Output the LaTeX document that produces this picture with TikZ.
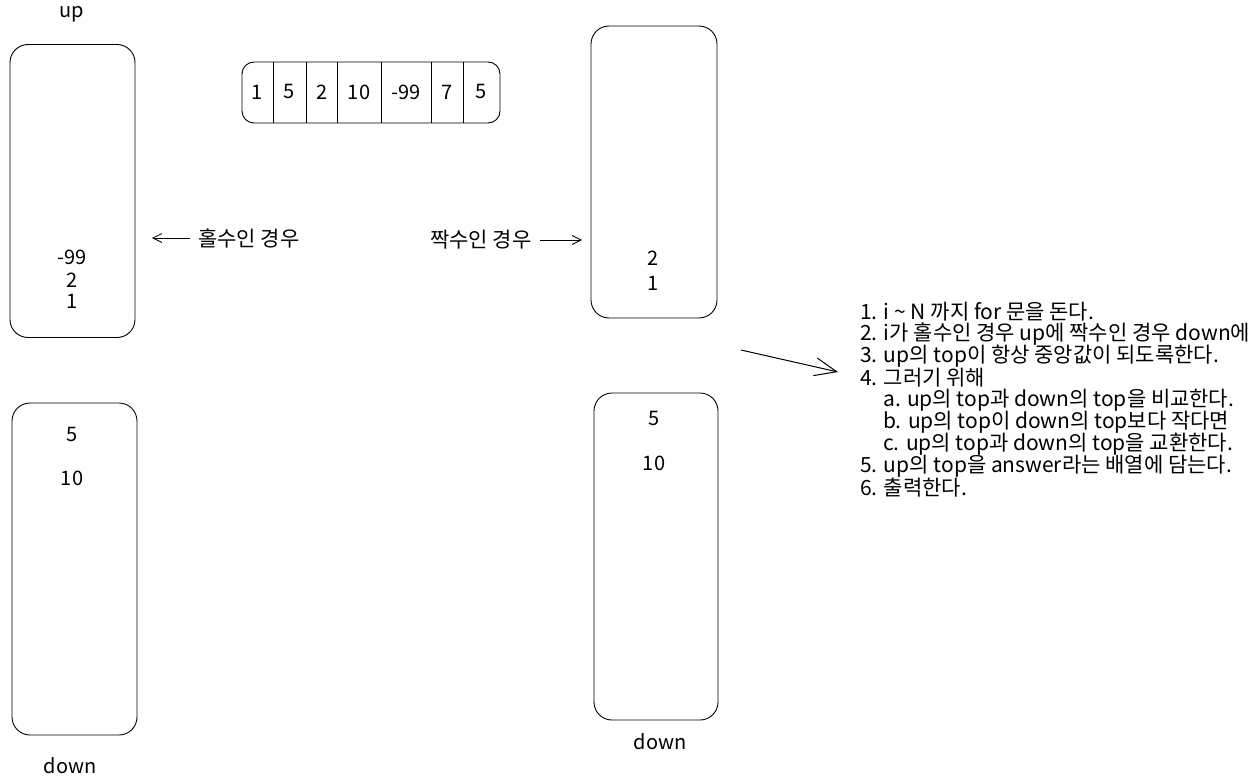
\documentclass[tikz,border=0pt]{standalone}
\usepackage{fontspec}
\setmainfont{Noto Sans CJK KR}
\usetikzlibrary{arrows.meta}

\begin{document}
\begin{tikzpicture}[
  x=1pt, y=-1pt,
  stack/.style={
    draw,
    rounded corners=18pt,
    line width=0.9pt,
    inner sep=0pt
  },
  val/.style={
    font=\fontsize{20}{22}\selectfont,
    inner sep=1pt
  },
  note/.style={
    font=\fontsize{21}{22}\selectfont,
    anchor=west,
    inner sep=0pt
  },
  barb/.style={
    line width=0.8pt,
    -{Straight Barb[length=9pt,width=9pt]}
  }
]
\useasboundingbox (0,0) rectangle (1255,781);
% stacks
\node[stack, minimum width=125pt, minimum height=293pt] (upL) at (72.5,191) {};
\node[stack, minimum width=125pt, minimum height=332pt] (downL) at (74.5,569) {};
\node[stack, minimum width=126pt, minimum height=292pt] (upR) at (654,172) {};
\node[stack, minimum width=124pt, minimum height=327pt] (downR) at (656,556.5) {};
\node[val] (upLname) at (72,14) {up};
\node[val] (downLname) at (70,766) {down};
\node[val] (downRname) at (660,742) {down};
% contents
\node[val] (u1) at (72,257) {-99};
\node[val] (u2) at (72,280) {2};
\node[val] (u3) at (72,301) {1};
\node[val] (d1) at (72,434) {5};
\node[val] (d2) at (72,478) {10};
\node[val] (r1) at (653,258) {2};
\node[val] (r2) at (653,283) {1};
\node[val] (s1) at (654,418) {5};
\node[val] (s2) at (654,463) {10};
% array
\node[stack, rounded corners=12pt, minimum width=258pt, minimum height=61pt] (arr) at (371,92.5) {};
\foreach \x in {273,306,337,381,431,463}
  \draw[line width=0.7pt] (\x,62) -- (\x,123);
\foreach \v/\x in {1/257,5/289,2/322,10/359,-99/406,7/447,5/481}
  \node[val] at (\x,92) {\v};
% arrows
\node[note] (odd) at (198,238) {홀수인 경우};
\coordinate (oddtip) at (152,238);
\draw[barb] (odd.west) ++(-8,0) coordinate (oddtail) -- (oddtip);
\node[note] (even) at (430,240) {짝수인 경우};
\coordinate (eventip) at (582,240);
\draw[barb] (even.east) ++(8,0) coordinate (eventail) -- (eventip);
\coordinate (bigtail) at (741,350);
\coordinate (bigtip) at (838,372);
\draw[line width=1pt, -{Straight Barb[length=22pt,width=18pt]}] (bigtail) -- (bigtip);
% steps
\node[note] (l1) at (860,312) {1. i \textasciitilde{} N 까지 for 문을 돈다.};
\node[note] (l2) at (860,334) {2. i가 홀수인 경우 up에 짝수인 경우 down에};
\node[note] (l3) at (860,356) {3. up의 top이 항상 중앙값이 되도록한다.};
\node[note] (l4) at (860,378) {4. 그러기 위해};
\node[note] (l5) at (883,400) {a. up의 top과 down의 top을 비교한다.};
\node[note] (l6) at (883,422) {b. up의 top이 down의 top보다 작다면};
\node[note] (l7) at (883,444) {c. up의 top과 down의 top을 교환한다.};
\node[note] (l8) at (860,466) {5. up의 top을 answer라는 배열에 담는다.};
\node[note] (l9) at (860,488) {6. 출력한다.};
\end{tikzpicture}
\end{document}
